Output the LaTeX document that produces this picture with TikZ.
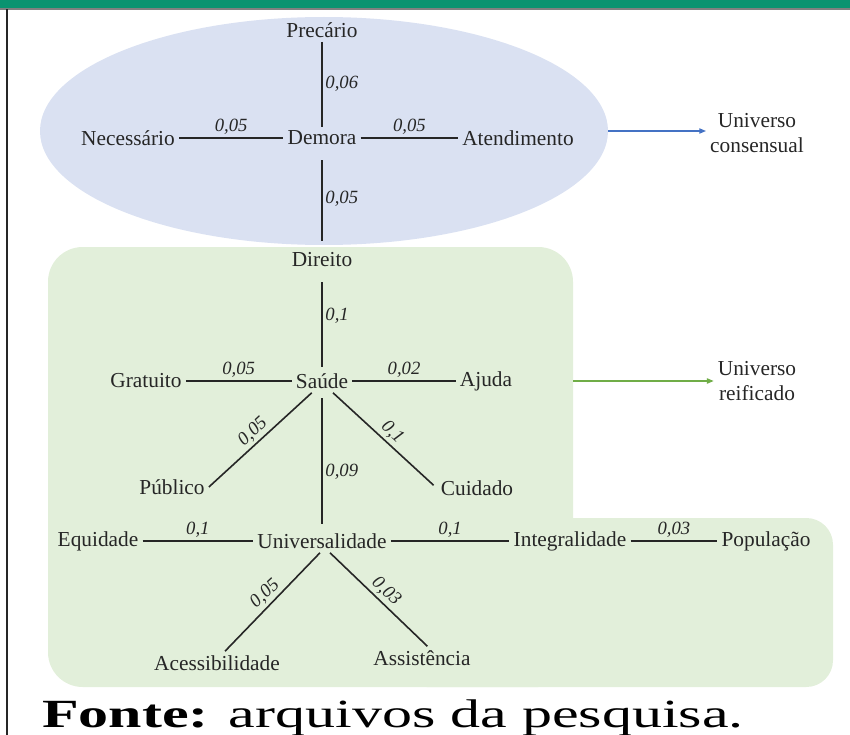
\documentclass[tikz,border=0pt]{standalone}
\usepackage{fontspec}
\setmainfont{Liberation Serif}
\usetikzlibrary{shapes.geometric,arrows.meta}

\definecolor{barra}{RGB}{10,147,112}
\definecolor{azulclaro}{RGB}{218,225,242}
\definecolor{verdeclaro}{RGB}{226,239,218}
\definecolor{azulseta}{RGB}{68,114,196}
\definecolor{verdeseta}{RGB}{112,173,71}
\definecolor{tinta}{RGB}{38,38,38}

\tikzset{
  palavra/.style={inner sep=3pt, text=tinta, font=\fontsize{16}{19}\selectfont},
  ligacao/.style={draw=tinta, line width=1.2pt},
  peso/.style={inner sep=2pt, text=tinta, font=\fontsize{14}{16}\selectfont\itshape},
  seta/.style={line width=0.8pt, -{Triangle[length=5pt,width=4pt]}},
}

\begin{document}
\begin{tikzpicture}[x=0.75pt,y=0.75pt,yscale=-1,xscale=1]
\useasboundingbox (0,0) rectangle (850,735);

%Top bar
\fill [barra] (0,0) rectangle (850,8);
\draw [color=gray, line width=1pt] (0,9) -- (850,9);
%Left border
\draw [color=tinta, line width=0.9pt] (7,9.5) -- (7,735);

%Shape: Ellipse
\node (nucleo) at (324,131) [ellipse, fill=azulclaro, minimum width=426pt, minimum height=171pt, inner sep=0pt] {};
%Shape: Rounded Rectangles (green region)
\fill [verdeclaro, rounded corners=26pt] (48,247) rectangle (573,687);
\fill [verdeclaro, rounded corners=20pt] (400,518) rectangle (833,687);

% Text Nodes
\node (precario) at (322,30) [palavra] {Precário};
\node (demora) at (322,138) [palavra] {Demora};
\node (necessario) at (128,138) [palavra] {Necessário};
\node (atendimento) at (518,138) [palavra] {Atendimento};
\node (direito) at (322,260) [palavra] {Direito};
\node (saude) at (322,381) [palavra] {Saúde};
\node (gratuito) at (146,381) [palavra] {Gratuito};
\node (ajuda) at (486,381) [palavra] {Ajuda};
\node (publico) at (172,487) [palavra] {Público};
\node (cuidado) at (477,488) [palavra] {Cuidado};
\node (univ) at (322,541) [palavra] {Universalidade};
\node (equidade) at (98,541) [palavra] {Equidade};
\node (integral) at (570,541) [palavra] {Integralidade};
\node (populacao) at (766,541) [palavra] {População};
\node (acess) at (217,663) [palavra] {Acessibilidade};
\node (assist) at (422,658) [palavra] {Assistência};

\node (consens) at (757,133) [palavra, align=center] {Universo\\consensual};
\node (reific) at (757,381) [palavra, align=center] {Universo\\reificado};

%Straight Lines
\draw [ligacao] (precario) -- (demora) node [peso, midway, right] {0,06};
\draw [ligacao] (necessario) -- (demora) node [peso, midway, above] {0,05};
\draw [ligacao] (demora) -- (atendimento) node [peso, midway, above] {0,05};
\draw [ligacao, shorten <=8pt, shorten >=6pt] (demora) -- (direito) node [peso, midway, right] {0,05};
\draw [ligacao, shorten <=8pt, shorten >=2pt] (direito) -- (saude) node [peso, pos=0.45, right] {0,1};
\draw [ligacao] (gratuito) -- (saude) node [peso, midway, above] {0,05};
\draw [ligacao] (saude) -- (ajuda) node [peso, midway, above] {0,02};
\draw [ligacao] (saude.229) -- (publico.east) node [peso, midway, anchor=south, rotate=43] {0,05};
\draw [ligacao, shorten >=3pt] (saude.313) -- (cuidado.west) node [peso, midway, anchor=south, rotate=-43] {0,1};
\draw [ligacao, shorten <=4pt, shorten >=4pt] (saude) -- (univ) node [peso, pos=0.58, right] {0,09};
\draw [ligacao] (equidade) -- (univ) node [peso, midway, above] {0,1};
\draw [ligacao] (univ) -- (integral) node [peso, midway, above] {0,1};
\draw [ligacao] (integral) -- (populacao) node [peso, midway, above] {0,03};
\draw [ligacao] ([xshift=-1.5pt]univ.south) -- ([xshift=6pt]acess.north) node [peso, midway, anchor=south, rotate=43] {0,05};
\draw [ligacao] ([xshift=6pt]univ.south) -- ([xshift=4pt]assist.north) node [peso, midway, anchor=south, rotate=-43] {0,03};

%Arrows
\draw [seta, azulseta] (nucleo.east) -- (nucleo.east -| consens.west);
\coordinate (bordaverde) at (573,381);
\draw [seta, verdeseta] (bordaverde) -- (reific.west);

% Text Node
\node (fonte) at (42,727) [anchor=base west, inner sep=0pt, text=black] {\scalebox{1.5}[1]{\fontsize{30}{34}\selectfont\textbf{Fonte:} arquivos da pesquisa.}};

\end{tikzpicture}
\end{document}
